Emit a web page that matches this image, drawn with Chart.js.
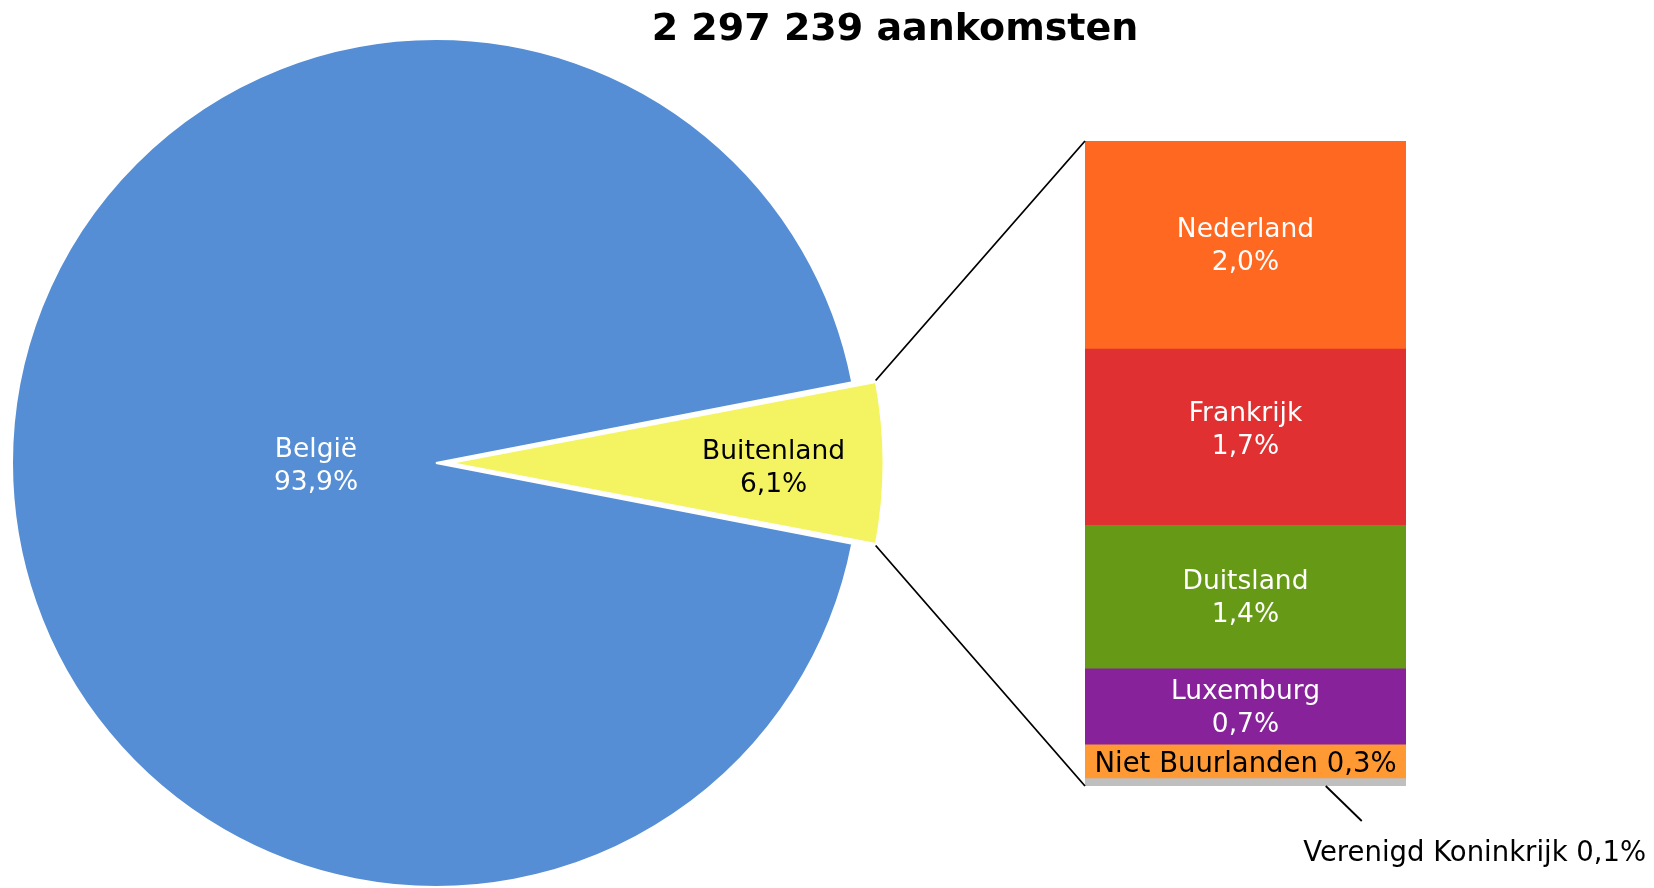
<!DOCTYPE html>
<html><head><meta charset="utf-8">
<script src="https://cdn.jsdelivr.net/npm/chart.js@4.4.0/dist/chart.umd.min.js"></script>
<style>
html,body{margin:0;padding:0;background:#fff;overflow:hidden;}
#wrap{position:relative;width:1654px;height:888px;}
canvas{position:absolute;left:0;top:0;}
</style></head><body>
<div id="wrap"><canvas id="pie" width="1654" height="888"></canvas><canvas id="bar" width="1654" height="888"></canvas></div>
<script>
// ---- data ----
const titleText = '2 297 239 aankomsten';
const pieLabels = ['België', 'Buitenland'];
const pieValues = [93.9, 6.1];
const pieColors = ['#558ED5', '#F4F462'];
const pieTextColors = ['#ffffff', '#000000'];
// stacked bar, bottom to top
const barLabels = ['Verenigd Koninkrijk', 'Niet Buurlanden', 'Luxemburg', 'Duitsland', 'Frankrijk', 'Nederland'];
const barValues = [0.07, 0.32, 0.72, 1.36, 1.67, 1.97];
const barColors = ['#BFBFBF', '#FF9933', '#87229B', '#669A16', '#E03031', '#FF6820'];
const barTextColors = ['#000000', '#000000', '#ffffff', '#ffffff', '#ffffff', '#ffffff'];

const FONT = '"DejaVu Sans", Verdana, sans-serif';
const fmt = v => v.toFixed(1).replace('.', ',') + '%';
const pieTotal = pieValues.reduce((a, b) => a + b, 0);
const barTotal = barValues.reduce((a, b) => a + b, 0);

// ---- pie ----
const pieLabelRadius = [0.283, 0.762];
const pieLabelDy = [3, 5];
const piePlugin = {
  id: 'pieText',
  afterDatasetsDraw(chart) {
    const ctx = chart.ctx;
    ctx.save();
    ctx.textAlign = 'center';
    ctx.textBaseline = 'middle';
    ctx.font = 'bold 38px ' + FONT;
    ctx.fillStyle = '#000';
    ctx.fillText(titleText, 895, 30);
    ctx.font = '26.5px ' + FONT;
    const meta = chart.getDatasetMeta(0);
    meta.data.forEach((arc, i) => {
      const mid = (arc.startAngle + arc.endAngle) / 2;
      const o = (arc.options.offset || 0) / 4;
      const r = arc.outerRadius * pieLabelRadius[i] + o;
      const x = arc.x + Math.cos(mid) * r;
      const y = arc.y + Math.sin(mid) * r + pieLabelDy[i];
      ctx.fillStyle = pieTextColors[i];
      ctx.fillText(pieLabels[i], x, y - 16);
      ctx.fillText(fmt(pieValues[i]), x, y + 17);
    });
    ctx.restore();
  }
};

const pieChart = new Chart(document.getElementById('pie'), {
  type: 'pie',
  data: {
    labels: pieLabels,
    datasets: [{
      data: pieValues,
      backgroundColor: pieColors,
      borderColor: '#ffffff',
      borderWidth: 2,
      offset: [0, 58],
      clip: false
    }]
  },
  options: {
    responsive: false,
    animation: false,
    events: [],
    radius: 424,
    rotation: 90 - (pieValues[0] + pieValues[1] / 2) / pieTotal * 360,
    layout: { padding: { left: 0, right: 782, top: 38, bottom: 0 } },
    plugins: { legend: { display: false }, tooltip: { enabled: false } }
  },
  plugins: [piePlugin]
});

// ---- bar ----
const labelNudge = [0, 3, 1, 1, -7, 1];
const barPlugin = {
  id: 'barText',
  afterDatasetsDraw(chart) {
    const ctx = chart.ctx;
    ctx.save();
    ctx.textAlign = 'center';
    ctx.textBaseline = 'middle';
    const els = barLabels.map((_, i) => chart.getDatasetMeta(i).data[0]);
    els.forEach((el, i) => {
      const cy = (el.y + el.base) / 2 + labelNudge[i];
      ctx.fillStyle = barTextColors[i];
      if (i === 0) {
        // leader line + outside label
        const x0 = el.x + el.width * 0.25, y0 = el.base;
        ctx.strokeStyle = '#000';
        ctx.lineWidth = 1.8;
        ctx.beginPath();
        ctx.moveTo(x0, y0);
        ctx.lineTo(x0 + 36, y0 + 35);
        ctx.stroke();
        ctx.font = '27.5px ' + FONT;
        ctx.fillText(barLabels[i] + ' ' + fmt(barValues[i]), x0 + 149, y0 + 68);
      } else if (i === 1) {
        ctx.font = '27.5px ' + FONT;
        ctx.fillText(barLabels[i] + ' ' + fmt(barValues[i]), el.x, cy);
      } else {
        ctx.font = '26.5px ' + FONT;
        ctx.fillText(barLabels[i], el.x, cy - 16);
        ctx.fillText(fmt(barValues[i]), el.x, cy + 17);
      }
    });
    // connector lines from exploded slice to bar
    const arc = pieChart.getDatasetMeta(0).data[1];
    const o = (arc.options.offset || 0) / 4;
    const mid = (arc.startAngle + arc.endAngle) / 2;
    const fix = 1 - Math.sin(Math.min(Math.PI, arc.endAngle - arc.startAngle));
    const R = arc.outerRadius + o * fix;
    const cx = arc.x + Math.cos(mid) * o, cyy = arc.y + Math.sin(mid) * o;
    const topEl = els[els.length - 1], botEl = els[0];
    const left = topEl.x - topEl.width / 2;
    ctx.strokeStyle = '#000';
    ctx.lineWidth = 1.8;
    ctx.beginPath();
    ctx.moveTo(cx + Math.cos(arc.startAngle) * R, cyy + Math.sin(arc.startAngle) * R);
    ctx.lineTo(left, topEl.y);
    ctx.moveTo(cx + Math.cos(arc.endAngle) * R, cyy + Math.sin(arc.endAngle) * R);
    ctx.lineTo(left, botEl.base);
    ctx.stroke();
    ctx.restore();
  }
};

new Chart(document.getElementById('bar'), {
  type: 'bar',
  data: {
    labels: [''],
    datasets: barLabels.map((l, i) => ({
      label: l,
      data: [barValues[i]],
      backgroundColor: barColors[i],
      borderWidth: 0,
      barPercentage: 1,
      categoryPercentage: 1
    }))
  },
  options: {
    responsive: false,
    animation: false,
    events: [],
    layout: { padding: { left: 1085, right: 248, top: 141, bottom: 102 } },
    plugins: { legend: { display: false }, tooltip: { enabled: false } },
    scales: {
      x: { display: false, stacked: true },
      y: { display: false, stacked: true, min: 0, max: barTotal }
    }
  },
  plugins: [barPlugin]
});
</script>
</body></html>
